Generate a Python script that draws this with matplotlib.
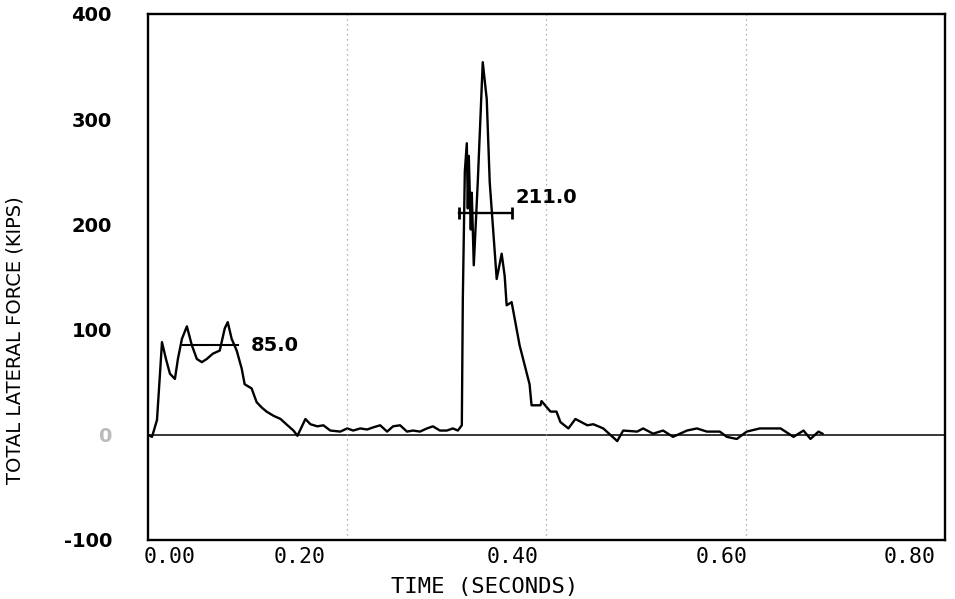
import matplotlib
matplotlib.use("Agg")
import matplotlib.pyplot as plt
import matplotlib.transforms as mtransforms

# force history (time in s, force in kips)
time_s = [
    0.000, 0.004, 0.009, 0.012, 0.014, 0.016, 0.018, 0.022, 0.027, 0.030,
    0.034, 0.039, 0.044, 0.049, 0.054, 0.059, 0.065, 0.072, 0.077, 0.080,
    0.084, 0.089, 0.094, 0.097, 0.104, 0.109, 0.114, 0.119, 0.126, 0.133,
    0.140, 0.146, 0.150, 0.158, 0.163, 0.170, 0.176, 0.183, 0.193, 0.200,
    0.206, 0.213, 0.220, 0.226, 0.233, 0.240, 0.246, 0.253, 0.260, 0.266,
    0.273, 0.280, 0.286, 0.293, 0.300, 0.306, 0.311, 0.315, 0.316, 0.318,
    0.320, 0.321, 0.322, 0.324, 0.325, 0.327, 0.331, 0.336, 0.340, 0.343,
    0.350, 0.355, 0.358, 0.360, 0.365, 0.373, 0.383, 0.385, 0.394, 0.395,
    0.404, 0.410, 0.414, 0.422, 0.429, 0.441, 0.447, 0.457, 0.471, 0.477,
    0.491, 0.497, 0.507, 0.517, 0.527, 0.541, 0.551, 0.561, 0.574, 0.581,
    0.591, 0.601, 0.614, 0.625, 0.635, 0.648, 0.658, 0.665, 0.673, 0.677,
]
force_kips = [
    0, -2, 14, 58, 88, 80, 72, 58, 53, 72,
    91, 103, 85, 72, 69, 72, 77, 80, 101, 107,
    91, 80, 63, 48, 44, 31, 26, 22, 18, 15,
    9, 4, -1, 15, 10, 8, 9, 4, 3, 6,
    4, 6, 5, 7, 9, 3, 8, 9, 3, 4,
    3, 6, 8, 4, 4, 6, 4, 9, 129, 250,
    277, 215, 265, 195, 230, 161, 240, 354, 319, 240,
    148, 172, 151, 123, 126, 85, 48, 28, 28, 32,
    22, 22, 12, 6, 15, 9, 10, 6, -6, 4,
    3, 6, 1, 4, -2, 4, 6, 3, 3, -2,
    -4, 3, 6, 6, 6, -2, 4, -4, 3, 1,
]

# average-force markers drawn on the original
avg_labels = ["85.0", "211.0"]
avg_values = [85.0, 211.0]
avg_spans = [(0.035, 0.090), (0.312, 0.365)]

x_ticks = [0.0, 0.2, 0.4, 0.6, 0.8]
x_ticklabels = ["0.00", "0.20", "0.40", "0.60", "0.80"]
y_ticks = [-100, 0, 100, 200, 300, 400]
y_ticklabels = ["-100", "0", "100", "200", "300", "400"]

fig = plt.figure(figsize=(9.55, 5.99), dpi=100)
ax = fig.add_axes([0.155, 0.0985, 0.8345, 0.8785])

ax.plot(time_s, force_kips, color="black", lw=1.7)
ax.axhline(0, color="black", lw=1.1)
for xv in [0.2, 0.4, 0.6]:
    ax.axvline(xv, color="#999999", lw=0.9, ls=(0, (1, 3)))

# 85.0 bar: plain line; 211.0 bar: with end caps
ax.plot(avg_spans[0], [avg_values[0]] * 2, color="black", lw=1.5)
ax.text(0.103, avg_values[0], avg_labels[0], fontsize=14, fontweight="bold",
        va="center", ha="left")
ax.plot(avg_spans[1], [avg_values[1]] * 2, color="black", lw=1.7,
        marker="|", markersize=8, markeredgewidth=2)
ax.text(0.369, avg_values[1] + 14, avg_labels[1], fontsize=14, fontweight="bold",
        va="center", ha="left")

ax.set_xlim(0, 0.8)
ax.set_ylim(-100, 400)
ax.set_xticks(x_ticks)
ax.set_xticklabels(x_ticklabels, family="DejaVu Sans Mono", fontsize=15.5)
ax.set_yticks(y_ticks)
ax.set_yticklabels(y_ticklabels, fontsize=14, fontweight="semibold")
ax.get_yticklabels()[1].set_color("#bbbbbb")
ax.tick_params(length=0, pad=26, axis="y")
ax.tick_params(length=0, pad=5, axis="x")

# the scanned x labels sit left of their grid lines
for lab, dx in zip(ax.get_xticklabels(), [22, -48, -34, -24, -35]):
    lab.set_transform(lab.get_transform() +
                      mtransforms.ScaledTranslation(dx / 100, 0, fig.dpi_scale_trans))

ax.set_xlabel("TIME (SECONDS)", family="DejaVu Sans Mono", fontsize=16)
ax.xaxis.set_label_coords(0.422, -0.07)
ax.set_ylabel("TOTAL LATERAL FORCE (KIPS)", fontsize=14)
ax.yaxis.set_label_coords(-0.155, 0.38)
for s in ax.spines.values():
    s.set_linewidth(1.7)

fig.savefig("out.png", dpi=100)
